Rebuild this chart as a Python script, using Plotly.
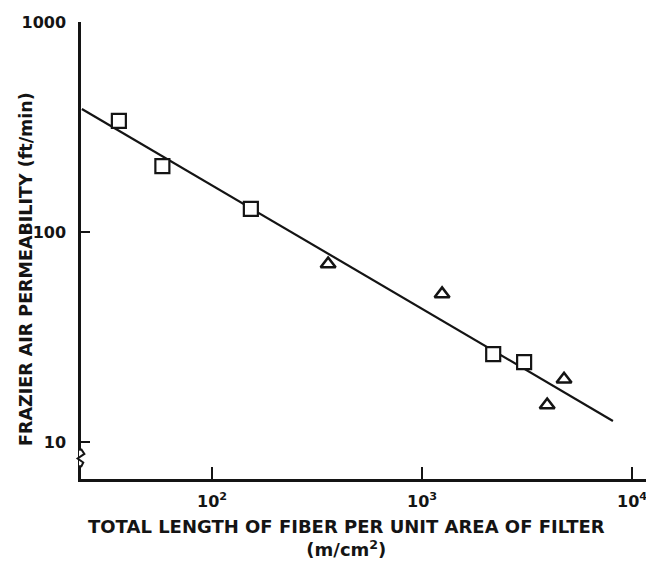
import plotly.graph_objects as go

# values
square_length = [36, 58, 153, 2180, 3060]
square_perm = [338, 206, 129, 26.2, 24.0]

triangle_length = [357, 1245, 3940, 4740]
triangle_perm = [70.4, 50.7, 15.0, 19.9]

fit_length = [24, 8100]
fit_perm = [385, 12.6]

x_tickvals = [100, 1000, 10000]
x_ticktext = ["<b>10<sup>2</sup></b>", "<b>10<sup>3</sup></b>", "<b>10<sup>4</sup></b>"]
y_tickvals = [10, 100, 1000]
y_ticktext = ["<b>10</b>", "<b>100</b>", "<b>1000</b>"]

FONT = "DejaVu Sans"
INK = "#141414"

fig = go.Figure()
fig.add_trace(
    go.Scatter(
        x=fit_length,
        y=fit_perm,
        mode="lines",
        line=dict(color=INK, width=2.2),
        showlegend=False,
    )
)
fig.add_trace(
    go.Scatter(
        x=square_length,
        y=square_perm,
        mode="markers",
        marker=dict(
            symbol="square",
            size=14,
            color="white",
            line=dict(color=INK, width=2.2),
        ),
        showlegend=False,
    )
)
fig.add_trace(
    go.Scatter(
        x=triangle_length,
        y=triangle_perm,
        mode="markers",
        marker=dict(
            symbol="triangle-up",
            size=13,
            color="white",
            line=dict(color=INK, width=2.6),
        ),
        showlegend=False,
    )
)

fig.update_xaxes(
    type="log",
    range=[1.376, 4.066],
    showgrid=False,
    zeroline=False,
    showline=True,
    linecolor=INK,
    linewidth=2.5,
    ticks="inside",
    ticklen=12,
    tickwidth=2,
    tickcolor=INK,
    tickvals=x_tickvals,
    ticktext=x_ticktext,
    ticklabelstandoff=6,
    ticklabeloverflow="allow",
    tickfont=dict(family=FONT, size=16, color=INK),
)
fig.update_yaxes(
    type="log",
    range=[0.824, 3.0],
    showgrid=False,
    zeroline=False,
    showline=True,
    linecolor=INK,
    linewidth=2.5,
    ticks="inside",
    ticklen=9,
    tickwidth=2,
    tickcolor=INK,
    tickvals=y_tickvals,
    ticktext=y_ticktext,
    ticklabelstandoff=9,
    tickfont=dict(family=FONT, size=16, color=INK),
)

# axis break mark just below the 10 tick
fig.add_shape(
    type="line", xref="paper", yref="paper",
    x0=0, x1=0, y0=0.03, y1=0.062,
    line=dict(color="white", width=4),
)
fig.add_shape(
    type="path", xref="paper", yref="paper",
    path="M 0,0.066 L 0.006,0.055 L -0.006,0.045 L 0.004,0.036 L 0,0.026",
    line=dict(color=INK, width=2),
)

fig.add_annotation(
    text="<b>TOTAL LENGTH OF FIBER PER UNIT AREA OF FILTER</b><br><b>(m/cm<sup>2</sup>)</b>",
    xref="paper", yref="paper",
    x=0.47, y=-0.077,
    xanchor="center", yanchor="top",
    showarrow=False,
    font=dict(family=FONT, size=18, color=INK),
)
fig.add_annotation(
    text="<b>FRAZIER AIR PERMEABILITY (ft/min)</b>",
    xref="paper", yref="paper",
    x=-0.097, y=0.46,
    xanchor="center", yanchor="middle",
    textangle=-90,
    showarrow=False,
    font=dict(family=FONT, size=17.5, color=INK),
)

fig.update_layout(
    width=646,
    height=565,
    margin=dict(l=81, r=0, t=22, b=86),
    plot_bgcolor="white",
    paper_bgcolor="white",
)

fig.write_html(
    "out.html",
    config={"displayModeBar": False},
    post_script="document.body.style.margin='0';document.body.style.overflow='hidden';",
)
